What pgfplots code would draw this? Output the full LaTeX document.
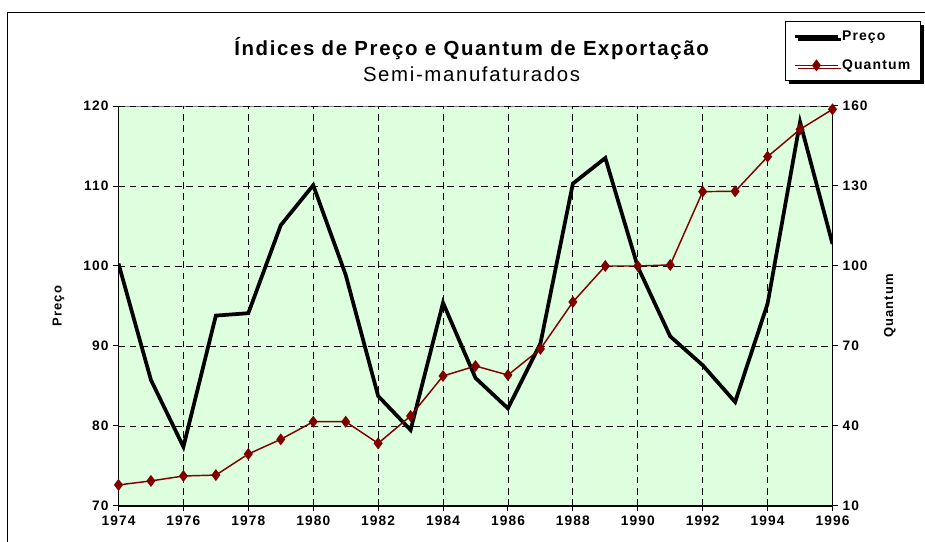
\documentclass[border=0pt]{standalone}
\usepackage{pgfplots}
\pgfplotsset{compat=1.18}
\usepackage{fontspec}
\setmainfont{Liberation Sans}
\newfontfamily\lsfont[LetterSpace=8]{Liberation Sans}
\usetikzlibrary{shadows}
\definecolor{bg}{HTML}{DDFFDD}
\definecolor{qred}{HTML}{800000}
\begin{document}
\begin{tikzpicture}
\useasboundingbox (-88.875pt,-27pt) rectangle (604.875pt,379.5pt);
\draw[line width=0.75pt] (-82.875pt,-40pt) -- (-82.875pt,369.75pt) -- (620pt,369.75pt);
\begin{axis}[
 scale only axis, width=535.5pt, height=300pt,
 xmin=1974, xmax=1996, ymin=70, ymax=120,
 xtick={1974,1976,...,1996}, ytick={70,80,...,120},
 axis x line*=bottom, axis y line*=left,
 axis line style={line width=1.1pt, black},
 axis background/.style={fill=bg, draw=gray, line width=0.75pt},
 grid=major, grid style={black, line width=0.6pt, dash pattern=on 5pt off 3.5pt},
 tick align=outside, major tick length=4pt, tick style={black, line width=0.75pt},
 ticklabel style={font=\lsfont\bfseries\fontsize{10.3}{12}\selectfont},
 /pgf/number format/assume math mode=true,
 x tick label style={/pgf/number format/.cd, 1000 sep={}},
 ylabel={Preço},
 ylabel style={font=\lsfont\bfseries\fontsize{9.75}{11}\selectfont, at={(rel axis cs:-0.084,0.5)}, anchor=center},
]
\addplot[black, line width=2.8pt] coordinates {
(1974,100.3) (1975,85.75) (1976,77.4) (1977,93.8) (1978,94.1) (1979,105.1)
(1980,110.1) (1981,98.9) (1982,83.75) (1983,79.5) (1984,95.4) (1985,86.0)
(1986,82.2) (1987,90.3) (1988,110.3) (1989,113.5) (1990,99.9) (1991,91.2)
(1992,87.6) (1993,83.0) (1994,95.3) (1995,118.0) (1996,102.75)};
\end{axis}
\begin{axis}[
 scale only axis, width=535.5pt, height=300pt,
 xmin=1974, xmax=1996, ymin=10, ymax=160,
 ytick={10,40,...,160},
 axis y line*=right, axis x line=none,
 clip=false,
 axis line style={line width=1.1pt, black},
 tick align=outside, major tick length=4pt, tick style={black, line width=0.75pt},
 ticklabel style={font=\lsfont\bfseries\fontsize{10.3}{12}\selectfont},
 /pgf/number format/assume math mode=true,
 ylabel={Quantum},
 ylabel style={font=\lsfont\bfseries\fontsize{9.75}{11}\selectfont, at={(rel axis cs:1.0805,0.5)}, anchor=center, rotate=0},
 legend image code/.code={\draw[mark repeat=2,mark phase=2,#1] plot coordinates {(0pt,0pt) (16pt,0pt) (32pt,0pt)};},
 legend cell align=left,
 legend style={at={(rel axis cs:0.9335,1.2133)}, anchor=north west, draw=black, line width=0.75pt, fill=white,
   font=\lsfont\bfseries\fontsize{10.5}{12}\selectfont, row sep=9pt, inner xsep=6pt, inner ysep=5pt,
   drop shadow={shadow xshift=2.5pt, shadow yshift=-2.5pt, opacity=1, fill=black}},
]
\addlegendimage{black, line width=2.4pt}
\addlegendentry{Preço}
\addplot[qred, line width=1.1pt, mark=diamond*, mark size=3.6pt, mark options={solid}] coordinates {
(1974,17.9) (1975,19.4) (1976,21.25) (1977,21.6) (1978,29.5) (1979,35.0)
(1980,41.6) (1981,41.6) (1982,33.5) (1983,43.75) (1984,58.75) (1985,62.5)
(1986,59.1) (1987,68.9) (1988,86.5) (1989,100) (1990,100) (1991,100.4)
(1992,127.9) (1993,128) (1994,141) (1995,151.25) (1996,158.75)};
\addlegendentry{Quantum}
\node[font=\lsfont\bfseries\fontsize{15.3}{17}\selectfont, anchor=base] at (rel axis cs:0.4945,1.127) {Índices de Preço e Quantum de Exportação};
\node[font=\lsfont\fontsize{15.3}{17}\selectfont, anchor=base] at (rel axis cs:0.4945,1.061) {Semi-manufaturados};
\end{axis}
\end{tikzpicture}
\end{document}
